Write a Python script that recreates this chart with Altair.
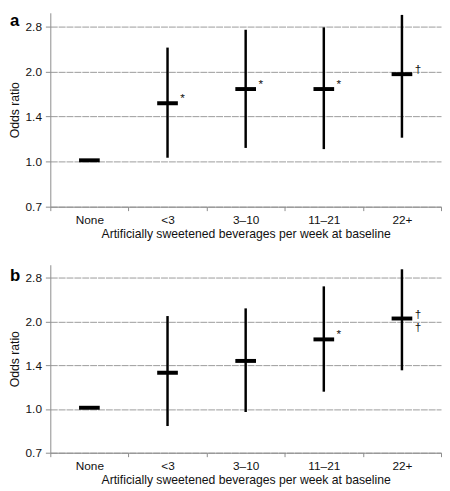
import altair as alt
import pandas as pd

categories = ["None", "<3", "3–10", "11–21", "22+"]

a_ratio = [1.0, 1.55, 1.73, 1.73, 1.94]
a_lo = [None, 1.02, 1.10, 1.09, 1.19]
a_hi = [None, 2.38, 2.73, 2.78, 3.06]
a_sig = ["", "*", "*", "*", "†"]

b_ratio = [1.0, 1.32, 1.45, 1.72, 2.03]
b_lo = [None, 0.865, 0.967, 1.136, 1.346]
b_hi = [None, 2.07, 2.20, 2.62, 3.00]
b_sig = ["", "", "", "*", "†\n†"]

y_ticks = [0.7, 0.98995, 1.4, 1.9799, 2.8]
y_domain = [0.7, 3.11]
panel_labels = ["a", "b"]
x_title = "Artificially sweetened beverages per week at baseline"
y_title = "Odds ratio"

AXIS_GRAY = "#8c8c8c"


def panel(letter, ratio, lo, hi, sig, height):
    df = pd.DataFrame({"cat": categories, "ratio": ratio, "lo": lo, "hi": hi, "sig": sig})
    xax = alt.Axis(title=x_title, labelAngle=0, tickBand="extent", grid=False,
                   labelFontSize=12, titleFontSize=12.4, titleFontWeight="normal",
                   labelColor="#111", titleColor="#111",
                   domainColor=AXIS_GRAY, tickColor=AXIS_GRAY, tickSize=4,
                   labelPadding=4, titlePadding=2)
    yax = alt.Axis(title=y_title, values=y_ticks, format=".1f",
                   labelFontSize=12, titleFontSize=12.4, titleFontWeight="normal",
                   labelColor="#111", titleColor="#111",
                   domainColor=AXIS_GRAY, tickColor=AXIS_GRAY, tickSize=5,
                   labelPadding=4, titlePadding=4,
                   grid=True, gridColor="#9a9a9a", gridDash=[7, 1], gridWidth=1)
    xs = alt.Scale(paddingInner=0, paddingOuter=0)
    ys = alt.Scale(type="log", domain=y_domain, nice=False)
    X = alt.X("cat:N", sort=categories, scale=xs, axis=xax)
    base = alt.Chart(df)
    ci = base.transform_filter("isValid(datum.lo)").mark_rule(
        color="black", strokeWidth=2.5
    ).encode(x=X, y=alt.Y("lo:Q", scale=ys, axis=yax), y2="hi:Q")
    est = base.mark_tick(color="black", thickness=4, size=21, opacity=1).encode(
        x=X, y=alt.Y("ratio:Q", scale=ys, axis=yax)
    )
    marks = base.mark_text(align="left", baseline="middle", dx=13, dy=-5,
                           fontSize=12, lineBreak="\n", color="#111").encode(
        x=X, y=alt.Y("ratio:Q", scale=ys, axis=yax), text="sig:N"
    )
    lab_y = 0 if letter == "a" else 4
    lab = alt.Chart(pd.DataFrame({"label": [letter]})).mark_text(
        align="left", baseline="top", fontSize=17, fontWeight="bold", color="black"
    ).encode(text="label:N", x=alt.value(-41), y=alt.value(lab_y))
    return alt.layer(ci, est, marks, lab).properties(width=397, height=height)


pa = panel(panel_labels[0], a_ratio, a_lo, a_hi, a_sig, 197)
pb = panel(panel_labels[1], b_ratio, b_lo, b_hi, b_sig, 191)

chart = alt.vconcat(pa, pb, spacing=25).properties(padding=0).configure(
    font="Liberation Sans"
).configure_view(strokeWidth=0)

chart.save("out.html", embed_options={"renderer": "svg", "actions": False})
